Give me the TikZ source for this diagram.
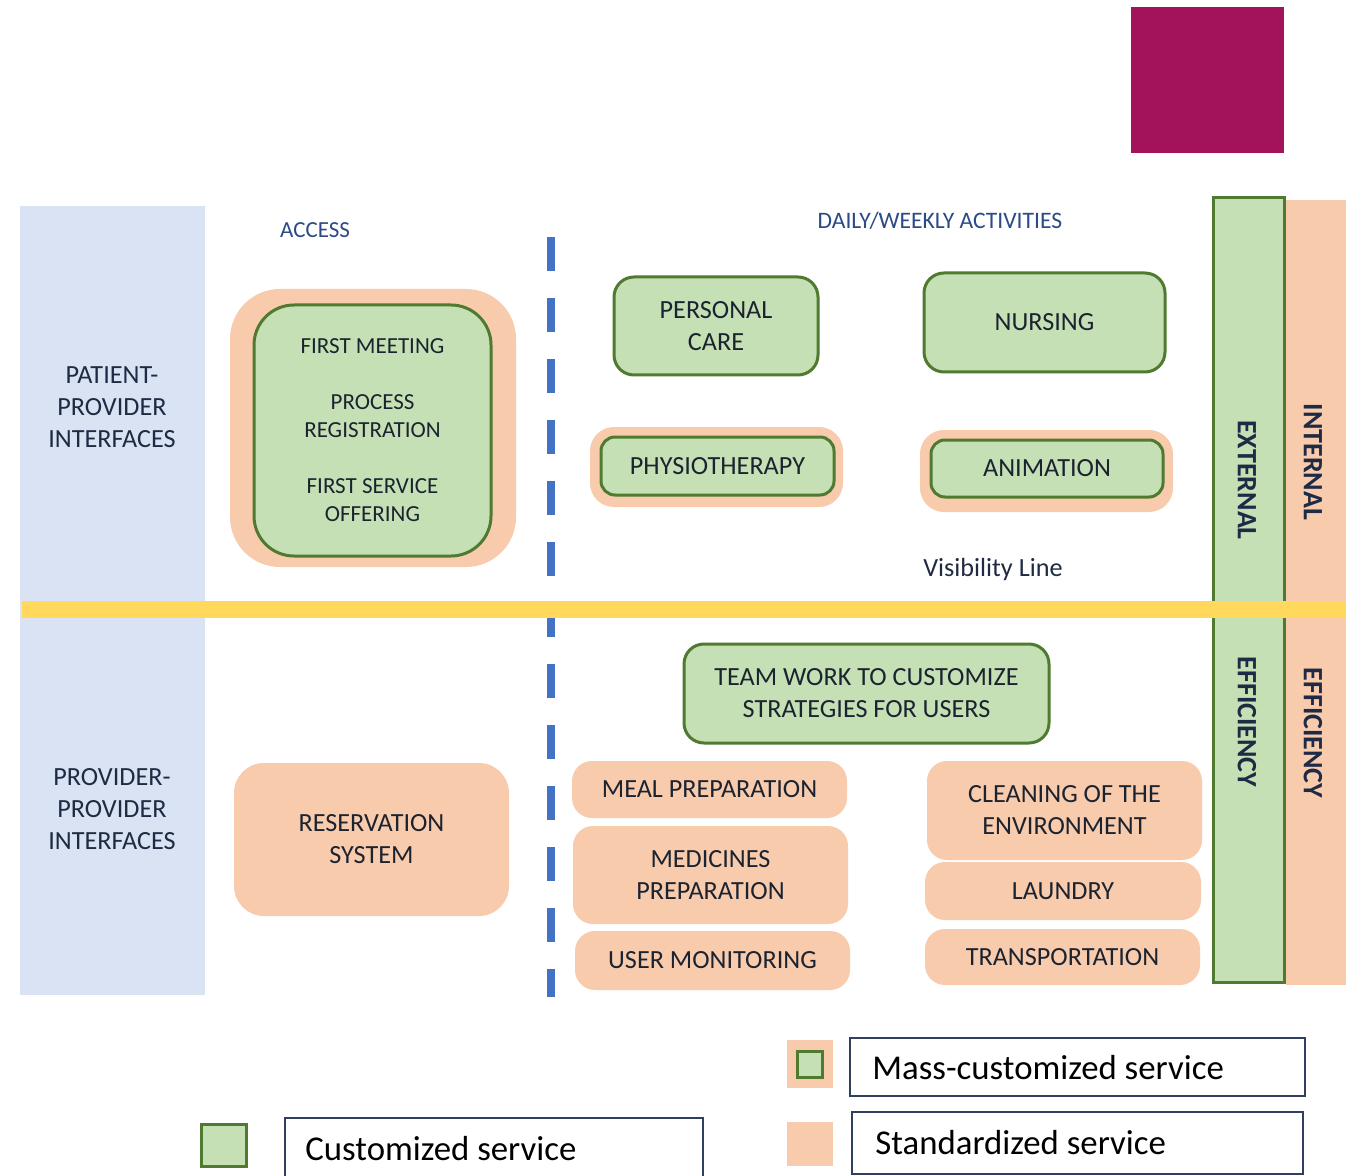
\documentclass[tikz,border=0pt]{standalone}
\usepackage{fontspec}
\setmainfont{Carlito}
\definecolor{gfill}{HTML}{C5E0B4}
\definecolor{gdark}{HTML}{4F7A30}
\definecolor{peach}{HTML}{F8CBAD}
\definecolor{lblue}{HTML}{DAE3F3}
\definecolor{yel}{HTML}{FFD85C}
\definecolor{dblue}{HTML}{4472C4}
\definecolor{magen}{HTML}{A3135C}
\definecolor{txt}{HTML}{1C2330}
\definecolor{head}{HTML}{2B4A86}
\definecolor{navy}{HTML}{1F2A44}
\definecolor{legline}{HTML}{2F3F60}
\newcommand\bxfont{\fontsize{13.1}{16}\selectfont}
\newcommand\smfont{\fontsize{11.5}{14}\selectfont}
\newcommand\hdfont{\fontsize{11.8}{14}\selectfont}
\newcommand\lgfont{\fontsize{17.4}{20}\selectfont}
\begin{document}
\begin{tikzpicture}[x=0.5pt,y=-0.5pt,
  gbox/.style={draw=gdark, line width=1.5pt, fill=gfill, rounded corners=10pt, align=center, inner sep=0pt, text=txt, font=\bxfont},
  pbox/.style={fill=peach, rounded corners=10pt, align=center, inner sep=0pt, text=txt, font=\bxfont},
  lbl/.style={align=center, text=navy, font=\bxfont, inner sep=0pt},
  collbl/.style={rotate=-90, text=navy, font=\bfseries\fontsize{14}{16}\selectfont, inner sep=0pt},
  dashline/.style={draw=dblue, line width=4pt, dash pattern=on 17pt off 13.5pt},
  legbox/.style={draw=legline, line width=1pt, fill=white}
]
\clip (0,0) rectangle (1348,1176);
\fill[white] (0,0) rectangle (1348,1176);

% magenta square
\fill[magen] (1131,7) rectangle (1284,153);

% left blue column
\fill[lblue] (20,206) rectangle (205,995);
\node[lbl] (ppi) at (112,407) {PATIENT-\\PROVIDER\\INTERFACES};
\node[lbl] (pvi) at (112,809) {PROVIDER-\\PROVIDER\\INTERFACES};

% right columns
\fill[peach] (1286,200) rectangle (1346,985);
\filldraw[fill=gfill, draw=gdark, line width=1.5pt] (1213,198) rectangle (1284,982);

% headings
\node[text=head, font=\smfont, inner sep=0pt] (access) at (315,230) {ACCESS};
\node[text=head, font=\hdfont, inner sep=0pt] (daily) at (940,221) {DAILY/WEEKLY ACTIVITIES};

% dashed separator
\coordinate (dtop) at (551,237);
\coordinate (dbot) at (551,997);
\draw[dashline] (dtop) -- (dbot);

% access block
\node[pbox, rounded corners=25pt, minimum width=143pt, minimum height=139pt] (accO) at (373,428) {};
\node[gbox, rounded corners=20pt, minimum width=118.5pt, minimum height=125.5pt, font=\smfont] (accI) at (372.5,430.5)
  {FIRST MEETING\\[14pt]PROCESS\\REGISTRATION\\[14pt]FIRST SERVICE\\OFFERING};

% daily activities
\node[gbox, minimum width=102pt, minimum height=49pt] (personal) at (716,326) {PERSONAL\\CARE};
\node[gbox, minimum width=120.5pt, minimum height=49.5pt] (nursing) at (1044.5,322.5) {NURSING};
\node[pbox, rounded corners=12pt, minimum width=126.5pt, minimum height=40pt] (physO) at (716.5,467) {};
\node[gbox, rounded corners=7pt, minimum width=116.5pt, minimum height=29pt] (physI) at (717.5,466) {PHYSIOTHERAPY};
\node[pbox, rounded corners=12pt, minimum width=126.5pt, minimum height=41pt] (animO) at (1046.5,471) {};
\node[gbox, rounded corners=7pt, minimum width=116pt, minimum height=28.5pt] (animI) at (1047,468.5) {ANIMATION};

\node[text=navy, font=\bxfont, inner sep=0pt] (vis) at (993,570) {Visibility Line};

% bottom part
\node[gbox, minimum width=182.5pt, minimum height=49.5pt] (team) at (866.5,693.5) {TEAM WORK TO CUSTOMIZE\\STRATEGIES FOR USERS};
\node[pbox, minimum width=137.5pt, minimum height=28.5pt] (meal) at (709.5,789.5) {MEAL PREPARATION};
\node[pbox, minimum width=137.5pt, minimum height=49pt] (medic) at (710.5,875) {MEDICINES\\PREPARATION};
\node[pbox, minimum width=137.5pt, minimum height=29.5pt] (usermon) at (712.5,960.5) {USER MONITORING};
\node[pbox, minimum width=137.5pt, minimum height=49.5pt] (clean) at (1064.5,810.5) {CLEANING OF THE\\ENVIRONMENT};
\node[pbox, minimum width=138pt, minimum height=29pt] (laundry) at (1063,891) {LAUNDRY};
\node[pbox, minimum width=137.5pt, minimum height=28pt] (transp) at (1062.5,957) {TRANSPORTATION};
\node[pbox, rounded corners=15pt, minimum width=137.5pt, minimum height=76.5pt] (reserv) at (371.5,839.5) {RESERVATION\\SYSTEM};

% visibility (yellow) line
\coordinate (yl) at (22,609);
\coordinate (yr) at (1345,609);
\draw[yel, line width=8.5pt] (yl) -- (yr);

% column labels
\node[collbl] (ext) at (1247,480) {EXTERNAL};
\node[collbl] (effE) at (1247,722) {EFFICIENCY};
\node[collbl] (int) at (1313,462) {INTERNAL};
\node[collbl] (effI) at (1313,733) {EFFICIENCY};

% legend
\fill[peach] (787,1040) rectangle (833,1088);
\filldraw[fill=gfill, draw=gdark, line width=1.5pt] (797,1051) rectangle (822,1077);
\draw[legbox] (850,1038) rectangle (1305,1096);
\node[anchor=west, font=\lgfont, text=black, inner sep=0pt] (mass) at (872,1068) {Mass-customized service};

\fill[peach] (787,1122) rectangle (833,1166);
\draw[legbox] (852,1112) rectangle (1303,1174);
\node[anchor=west, font=\lgfont, text=black, inner sep=0pt] (std) at (875,1143) {Standardized service};

\filldraw[fill=gfill, draw=gdark, line width=1.5pt] (201,1124) rectangle (246,1166);
\draw[legbox] (285,1118) rectangle (703,1190);
\node[anchor=west, font=\lgfont, text=black, inner sep=0pt] (cust) at (305,1149) {Customized service};
\end{tikzpicture}
\end{document}
